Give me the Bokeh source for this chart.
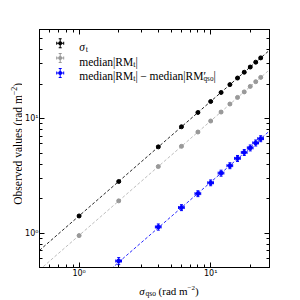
import math
from bokeh.plotting import figure
from bokeh.layouts import row, column
from bokeh.models import (ColumnDataSource, Whisker, TeeHead, Label, BoxAnnotation,
                          FixedTicker, LogAxis)
from bokeh.embed import file_html
from bokeh.resources import INLINE

# ---------------- data ----------------
sigma_qso = [1, 2, 4, 6, 8, 10, 12, 14, 16, 18, 20, 22, 24]
sigma_qso_err = [0.02, 0.04, 0.08, 0.12, 0.16, 0.2, 0.24, 0.28, 0.32, 0.36, 0.4, 0.44, 0.48]
sigma_t = [1.41, 2.82, 5.66, 8.48, 11.3, 14.1, 16.9, 19.8, 22.6, 25.4, 28.2, 31.1, 33.9]
sigma_t_err = [0.02, 0.05, 0.09, 0.14, 0.18, 0.23, 0.27, 0.32, 0.36, 0.41, 0.45, 0.5, 0.54]
median_rm_t = [0.95, 1.91, 3.81, 5.72, 7.63, 9.52, 11.4, 13.4, 15.3, 17.1, 19.1, 21.0, 22.9]
median_rm_t_err = [0.02, 0.03, 0.06, 0.09, 0.12, 0.15, 0.18, 0.21, 0.24, 0.27, 0.3, 0.33, 0.36]
sigma_qso_diff = [2, 4, 6, 8, 10, 12, 14, 16, 18, 20, 22, 24]
sigma_qso_diff_err = [0.1, 0.2, 0.3, 0.4, 0.5, 0.6, 0.7, 0.8, 0.9, 1.0, 1.1, 1.2]
median_diff = [0.57, 1.13, 1.67, 2.21, 2.75, 3.34, 3.88, 4.49, 5.06, 5.55, 6.13, 6.68]
median_diff_err = [0.04, 0.07, 0.1, 0.13, 0.16, 0.2, 0.23, 0.27, 0.3, 0.33, 0.37, 0.4]

# slopes of the fitted proportional relations (dashed lines)
fit_slopes = [1.412, 0.953, 0.278]

x_lim = [0.5, 28]
y_lim = [0.5, 60]
x_major = [1, 10]
x_minor = [0.5, 0.6, 0.7, 0.8, 0.9, 2, 3, 4, 5, 6, 7, 8, 9, 20]
y_major = [1, 10]
y_minor = [0.5, 0.6, 0.7, 0.8, 0.9, 2, 3, 4, 5, 6, 7, 8, 9, 20, 30, 40, 50, 60]
tick_labels = {1: "10⁰", 10: "10¹"}

colors = ["black", "#999999", "blue"]
line_colors = ["black", "#b0b0b0", "blue"]

# ---------------- main figure ----------------
p = figure(x_axis_type="log", y_axis_type="log",
           x_range=tuple(x_lim), y_range=tuple(y_lim),
           width=272, height=280,
           min_border_left=15, min_border_top=29, min_border_right=25, min_border_bottom=11,
           output_backend="svg", toolbar_location=None)
p.title.text = ""
p.title.visible = False
p.background_fill_color = "white"
p.border_fill_color = "white"
p.outline_line_color = "black"
p.outline_line_width = 1
p.xgrid.visible = False
p.ygrid.visible = False

p.add_layout(LogAxis(), "above")
p.add_layout(LogAxis(), "right")

for ax in p.xaxis:
    ax.ticker = FixedTicker(ticks=x_major, minor_ticks=x_minor)
for ax in p.yaxis:
    ax.ticker = FixedTicker(ticks=y_major, minor_ticks=y_minor)

for ax in p.xaxis + p.yaxis:
    ax.major_tick_in = 5
    ax.major_tick_out = 0
    ax.minor_tick_in = 3
    ax.minor_tick_out = 0
    ax.axis_line_color = "black"
    ax.major_tick_line_color = "black"
    ax.minor_tick_line_color = "black"
    ax.major_label_overrides = tick_labels
    ax.major_label_text_font = "DejaVu Sans"
    ax.major_label_text_font_size = "8px"
    ax.major_label_text_color = "black"
    ax.major_label_standoff = 1

p.above[0].major_label_text_color = None
p.right[0].major_label_text_color = None

# fitted dashed lines
for slope, lc in zip(fit_slopes, line_colors):
    p.line(x=x_lim, y=[slope * v for v in x_lim], line_color=lc, line_width=1,
           line_dash="3 2", line_alpha=0.85)


def errorbars(xs, xerr, ys, yerr, color):
    src = ColumnDataSource(dict(
        x=xs, y=ys,
        yl=[a - b for a, b in zip(ys, yerr)], yu=[a + b for a, b in zip(ys, yerr)],
        xl=[a - b for a, b in zip(xs, xerr)], xu=[a + b for a, b in zip(xs, xerr)]))
    p.add_layout(Whisker(source=src, base="x", lower="yl", upper="yu", dimension="height",
                         line_color=color, line_width=1,
                         lower_head=TeeHead(size=3, line_color=color, line_width=1),
                         upper_head=TeeHead(size=3, line_color=color, line_width=1)))
    p.add_layout(Whisker(source=src, base="y", lower="xl", upper="xu", dimension="width",
                         line_color=color, line_width=1,
                         lower_head=TeeHead(size=3, line_color=color, line_width=1),
                         upper_head=TeeHead(size=3, line_color=color, line_width=1)))
    p.scatter("x", "y", source=src, size=4, fill_color=color, line_color=color)


errorbars(sigma_qso, sigma_qso_err, sigma_t, sigma_t_err, colors[0])
errorbars(sigma_qso, sigma_qso_err, median_rm_t, median_rm_t_err, colors[1])
errorbars(sigma_qso_diff, sigma_qso_diff_err, median_diff, median_diff_err, colors[2])

# ---------------- text helpers ----------------
WID = {'m': 778, 'e': 444, 'd': 500, 'i': 278, 'a': 444, 'n': 500, '|': 200, 'R': 667,
       'M': 889, 't': 278, ' ': 250, '−': 564, '′': 275, 'q': 500, 's': 389, 'o': 500,
       '(': 333, ')': 333, 'r': 333, 'O': 722, 'b': 500, 'v': 500, 'l': 278, 'u': 500,
       'σ': 560, '2': 500}
SERIF = "Liberation Serif"
FS = 11.5
SS = 8.0


def width(s, size):
    return sum(WID.get(c, 500) for c in s) * size / 1000.0


def put(fig, pieces, x0, y0, angle=0.0):
    pos = x0 if angle == 0 else y0
    for piece in pieces:
        if isinstance(piece, (int, float)):
            pos += piece
            continue
        text, size, rise, style, adv = piece
        if angle == 0:
            lx, ly = pos, y0 + rise
        else:
            lx, ly = x0 - rise, pos
        fig.add_layout(Label(x=lx, y=ly, x_units="screen", y_units="screen", text=text,
                             text_font=SERIF, text_font_size=f"{size}px",
                             text_font_style=style, text_color="black",
                             text_baseline="alphabetic", text_align="left", angle=angle))
        if adv:
            pos += width(text, size)


# ---------------- legend (manual) ----------------
row_y = [224.2, 209.4, 194.6]   # frame-relative centres
hx = 20.7
text_x = 39.7
legend_texts = [
    [("σ", FS, 0, "italic", True), ("t", SS, -2.5, "normal", True)],
    [("median|RM", FS, 0, "normal", True), ("t", SS, -2.5, "normal", True),
     ("|", FS, 0, "normal", True)],
    [("median|RM", FS, 0, "normal", True), ("t", SS, -2.5, "normal", True),
     ("|", FS, 0, "normal", True), 2.6, ("−", FS, 0, "normal", True), 2.6,
     ("median|RM", FS, 0, "normal", True), ("′", FS, 0, "normal", False),
     ("qso", SS * 0.9, -2.8, "normal", True), ("|", FS, 0, "normal", True)],
]


def box(l, r, b, t, color, radius=0):
    p.add_layout(BoxAnnotation(left=l, right=r, bottom=b, top=t,
                               left_units="screen", right_units="screen",
                               bottom_units="screen", top_units="screen",
                               fill_color=color, fill_alpha=1.0, line_color=None,
                               border_radius=radius))


for yc, col, pieces in zip(row_y, colors, legend_texts):
    box(hx - 3.5, hx + 3.5, yc - 0.5, yc + 0.5, col)        # horizontal bar
    box(hx - 0.5, hx + 0.5, yc - 4.5, yc + 4.5, col)        # vertical bar
    box(hx - 1.5, hx + 1.5, yc + 4.0, yc + 5.0, col)        # caps
    box(hx - 1.5, hx + 1.5, yc - 5.0, yc - 4.0, col)
    box(hx - 4.0, hx - 3.0, yc - 1.5, yc + 1.5, col)
    box(hx + 3.0, hx + 4.0, yc - 1.5, yc + 1.5, col)
    box(hx - 2, hx + 2, yc - 2, yc + 2, col, radius=2)       # marker
    put(p, pieces, text_x, yc - 3.5)


# ---------------- axis-label strips ----------------
def strip(w, h):
    f = figure(width=w, height=h, x_range=(0, 1), y_range=(0, 1),
               min_border=0, min_border_left=0, min_border_right=0,
               min_border_top=0, min_border_bottom=0,
               x_axis_location=None, y_axis_location=None,
               output_backend="svg", toolbar_location=None)
    f.title.text = ""
    f.title.visible = False
    f.outline_line_color = None
    f.xgrid.visible = False
    f.ygrid.visible = False
    f.background_fill_color = "white"
    f.border_fill_color = "white"
    return f


XS = 11.0
xfig = strip(272, 18)
put(xfig, [("σ", XS, 0, "italic", True), ("qso", 7.5, -2.2, "normal", True), 2.7,
           ("(rad m", XS, 0, "normal", True), ("−2", 7.0, 3.3, "normal", True),
           (")", XS, 0, "normal", True)], 99.8, 7.3)

YS = 11.5
yfig = strip(22, 298)
put(yfig, [("Observed values", YS, 0, "normal", True), 2.9,
           ("(rad m", YS, 0, "normal", True), ("−2", 8.0, 4.0, "normal", True),
           (")", YS, 0, "normal", True)], 17.6, 93.8, angle=math.pi / 2)

layout = row(yfig, column(p, xfig, spacing=0), spacing=0)

open("out.html", "w").write(file_html(layout, INLINE))
